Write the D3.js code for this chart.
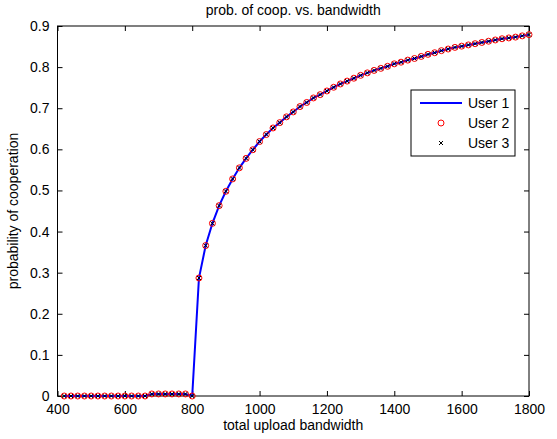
<!DOCTYPE html>
<html>
<head>
<meta charset="utf-8">
<script src="https://cdn.jsdelivr.net/npm/d3@7"></script>
<style>
  body { margin: 0; background: #fff; }
  text { font-family: "Liberation Sans", Arial, sans-serif; fill: #000; }
</style>
</head>
<body>
<div id="chart"></div>
<script>
// bandwidth values (x), step 20
let bandwidth = d3.range(420, 1801, 20);

// probability of cooperation
let prob = [
    0, 0, 0, 0, 0, 0, 0, 0, 0, 0, 0, 0, 0,          // 420 - 660
    0.005, 0.005, 0.005, 0.005, 0.005, 0.005,        // 680 - 780
    0,                                               // 800
    0.287, 0.366, 0.420, 0.463, 0.498, 0.528, 0.555, 0.578, 0.599, // 820 - 980
    0.619, 0.636, 0.652, 0.665, 0.679, 0.691, 0.704, 0.714, 0.725, 0.733, // 1000 - 1180
    0.742, 0.751, 0.759, 0.766, 0.773, 0.780, 0.786, 0.792, 0.797, 0.802, // 1200 - 1380
    0.808, 0.812, 0.817, 0.821, 0.826, 0.831, 0.835, 0.840, 0.844, 0.848, // 1400 - 1580
    0.851, 0.854, 0.857, 0.860, 0.863, 0.866, 0.869, 0.871, 0.873, 0.876, // 1600 - 1780
    0.879                                            // 1800
];

let xTicks = [400, 600, 800, 1000, 1200, 1400, 1600, 1800];
let yTicks = [0, 0.1, 0.2, 0.3, 0.4, 0.5, 0.6, 0.7, 0.8, 0.9];
let users = ["User 1", "User 2", "User 3"];

let data = bandwidth.map((b, i) => ({x: b, y: prob[i]}));

let margin = {top: 26, right: 28, bottom: 43, left: 57.5};
let totalW = 557, totalH = 439;
let width = totalW - margin.left - margin.right;
let height = totalH - margin.top - margin.bottom;

let svg = d3.select("#chart").append("svg")
    .attr("width", totalW)
    .attr("height", totalH);

let g = svg.append("g")
    .attr("transform", "translate(" + margin.left + "," + margin.top + ")");

let x = d3.scaleLinear().domain([400, 1800]).range([0, width]);
let y = d3.scaleLinear().domain([0, 0.9]).range([height, 0]);

let fontSize = 14;

// axes (MATLAB style: ticks inward on all four sides)
let xAxisB = d3.axisBottom(x).tickValues(xTicks).tickSizeInner(-5).tickSizeOuter(0).tickPadding(8).tickFormat(d3.format("d"));
let xAxisT = d3.axisTop(x).tickValues(xTicks).tickSizeInner(-5).tickSizeOuter(0).tickFormat("");
let yAxisL = d3.axisLeft(y).tickValues(yTicks).tickSizeInner(-5).tickSizeOuter(0).tickPadding(8).tickFormat(d3.format("~g"));
let yAxisR = d3.axisRight(y).tickValues(yTicks).tickSizeInner(-5).tickSizeOuter(0).tickFormat("");

function styleAxis(sel) {
    sel.select(".domain").remove();
    sel.selectAll("line").attr("stroke", "#000");
    sel.selectAll("text").style("font-size", fontSize + "px").attr("fill", "#000");
}

g.append("g").attr("transform", "translate(0," + height + ")").call(xAxisB).call(styleAxis);
g.append("g").call(xAxisT).call(styleAxis);
g.append("g").call(yAxisL).call(styleAxis);
g.append("g").attr("transform", "translate(" + width + ",0)").call(yAxisR).call(styleAxis);

// plot box
g.append("rect")
    .attr("width", width)
    .attr("height", height)
    .attr("fill", "none")
    .attr("stroke", "#000")
    .attr("stroke-width", 1);

// User 1: blue line
let line = d3.line().x(d => x(d.x)).y(d => y(d.y));
g.append("path")
    .datum(data)
    .attr("d", line)
    .attr("fill", "none")
    .attr("stroke", "#0000ff")
    .attr("stroke-width", 2);

// User 2: red circles
g.selectAll(".circ")
    .data(data)
    .enter().append("circle")
    .attr("class", "circ")
    .attr("cx", d => x(d.x))
    .attr("cy", d => y(d.y))
    .attr("r", 3)
    .attr("fill", "none")
    .attr("stroke", "#ff0000")
    .attr("stroke-width", 1);

// User 3: black crosses
let cross = "M-2,-2L2,2M-2,2L2,-2";
g.selectAll(".cross")
    .data(data)
    .enter().append("path")
    .attr("class", "cross")
    .attr("transform", d => "translate(" + x(d.x) + "," + y(d.y) + ")")
    .attr("d", cross)
    .attr("stroke", "#000")
    .attr("stroke-width", 1);

// title and labels
svg.append("text")
    .attr("x", margin.left + width / 2)
    .attr("y", 15)
    .attr("text-anchor", "middle")
    .style("font-size", fontSize + "px")
    .text("prob. of coop. vs. bandwidth");

svg.append("text")
    .attr("x", margin.left + width / 2)
    .attr("y", margin.top + height + 34)
    .attr("text-anchor", "middle")
    .style("font-size", fontSize + "px")
    .text("total upload bandwidth");

svg.append("text")
    .attr("transform", "translate(18," + (margin.top + height / 2) + ") rotate(-90)")
    .attr("text-anchor", "middle")
    .style("font-size", fontSize + "px")
    .text("probability of cooperation");

// legend
let legend = svg.append("g").attr("transform", "translate(411,90)");
legend.append("rect")
    .attr("width", 104)
    .attr("height", 66)
    .attr("fill", "#fff")
    .attr("stroke", "#000")
    .attr("stroke-width", 1);

let rowY = [13, 33, 53];
legend.append("line")
    .attr("x1", 9).attr("x2", 51)
    .attr("y1", rowY[0]).attr("y2", rowY[0])
    .attr("stroke", "#0000ff").attr("stroke-width", 2);
legend.append("circle")
    .attr("cx", 30).attr("cy", rowY[1]).attr("r", 3)
    .attr("fill", "none").attr("stroke", "#ff0000").attr("stroke-width", 1);
legend.append("path")
    .attr("transform", "translate(30," + rowY[2] + ")")
    .attr("d", cross)
    .attr("stroke", "#000").attr("stroke-width", 1);

legend.selectAll(".ltext")
    .data(users)
    .enter().append("text")
    .attr("class", "ltext")
    .attr("x", 57)
    .attr("y", (d, i) => rowY[i])
    .attr("dy", "0.35em")
    .style("font-size", fontSize + "px")
    .text(d => d);
</script>
</body>
</html>
